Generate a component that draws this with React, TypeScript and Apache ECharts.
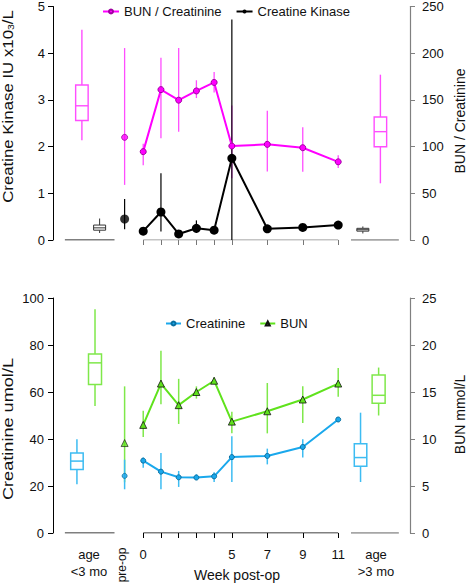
import React, { useEffect, useRef } from 'react';
import * as echarts from 'echarts';

// ---------- data ----------
const weeks = [0, 1, 2, 3, 4, 5, 7, 9, 11];
const weekTickValues = [0, 1, 2, 3, 4, 5, 7, 9, 11];
const weekLabelValues = [0, 5, 7, 9, 11];

// Creatine kinase (IU x10^3/L)
const ckMean = [0.19, 0.6, 0.13, 0.25, 0.21, 1.75, 0.24, 0.27, 0.32];
const ckLow = [null, 0.18, null, 0.15, null, 0, null, null, null];
const ckHigh = [null, 1.43, null, 0.42, null, 4.72, null, null, null];
const ckPreOp = [0.45, 0.23, 0.88]; // mean, low, high
const ckBoxYoung = [0.15, 0.21, 0.26, 0.32, 0.46]; // min, q1, median, q3, max
const ckBoxOld = [0.14, 0.19, 0.22, 0.25, 0.29];

// BUN / Creatinine ratio
const bunCrMean = [94.6, 161, 149.7, 159.6, 168.7, 100.6, 102.4, 98.8, 83.7];
const bunCrLow = [80, 109, 116, 152, 158, 66, 73.4, 73, 77];
const bunCrHigh = [103, 195, 205.5, 171, 180, 144, 138.5, 120.8, 90.8];
const bunCrPreOp = [109.9, 59, 205.5];
const bunCrBoxYoung = [106.7, 127.9, 143.7, 166, 225];
const bunCrBoxOld = [60.7, 99.9, 116, 131.7, 177];

// Creatinine (umol/L)
const creatMean = [30.8, 26.1, 23.7, 23.6, 24.1, 32.3, 32.8, 36.6, 48.3];
const creatLow = [27.8, 18.6, 19.6, 22.8, 21.7, 21.7, 29.2, 32.1, 47.6];
const creatHigh = [32.1, 34, 26.4, 25.0, 25.8, 41.2, 35.9, 39.9, 49];
const creatPreOp = [24.3, 18.6, 31.2];
const creatBoxYoung = [20.7, 27.0, 30.6, 34.0, 39.9];
const creatBoxOld = [21.7, 28.4, 32.1, 38.0, 51.2];

// BUN (mmol/L)
const bunMean = [11.5, 15.9, 13.6, 15.0, 16.2, 11.85, 12.95, 14.2, 15.9];
const bunLow = [10.2, 13.7, 11.6, 14.3, 15.9, 10.6, 10.6, 11.7, 14.5];
const bunHigh = [13.0, 19.4, 16.4, 15.6, 16.55, 12.9, 15.96, 15.6, 17.55];
const bunPreOp = [9.57, 5.4, 15.6];
const bunBoxYoung = [13.5, 15.8, 18.1, 19.05, 23.8];
const bunBoxOld = [12.5, 13.8, 14.65, 16.8, 17.6];

// ---------- layout ----------
const FONT = "'Liberation Sans', Arial, Helvetica, sans-serif";
const X_MIN = -5.09;
const X_MAX = 15.05;
const PREOP_X = -1.05;
const BASE_YOUNG = [-4.42, -1.62];
const BASE_OLD = [11.72, 14.42];
const TOP_X = { bunCrYoung: -3.46, ckYoung: -2.46, ckOld: 12.39, bunCrOld: 13.38 };
const BOT_X = { creatYoung: -3.74, bunYoung: -2.72, creatOld: 12.26, bunOld: 13.28 };

const MAGENTA = '#ff00ff';
const MAGENTA_LIGHT = '#ff4dff';
const BLUE = '#1aa8ec';
const BLUE_LIGHT = '#3dbcf2';
const GREEN = '#5fe21c';
const GREEN_LIGHT = '#7fe84a';

function errRender(color: string, lw: number) {
  return (params: any, api: any) => {
    const x = api.value(0);
    const p1 = api.coord([x, api.value(1)]);
    const p2 = api.coord([x, api.value(2)]);
    return {
      type: 'line',
      shape: { x1: p1[0], y1: p1[1], x2: p2[0], y2: p2[1] },
      style: { stroke: color, lineWidth: lw },
    };
  };
}

function boxRender(color: string, width: number, lw: number) {
  return (params: any, api: any) => {
    const x = api.value(0);
    const pts = [1, 2, 3, 4, 5].map((i) => api.coord([x, api.value(i)]));
    const [pMin, pQ1, pMed, pQ3, pMax] = pts;
    const cx = pMin[0];
    const h = width / 2;
    const st = { stroke: color, lineWidth: lw };
    return {
      type: 'group',
      children: [
        { type: 'line', shape: { x1: cx, y1: pMax[1], x2: cx, y2: pQ3[1] }, style: st },
        { type: 'line', shape: { x1: cx, y1: pQ1[1], x2: cx, y2: pMin[1] }, style: st },
        {
          type: 'rect',
          shape: { x: cx - h, y: pQ3[1], width, height: pQ1[1] - pQ3[1] },
          style: { fill: '#ffffff', stroke: color, lineWidth: lw },
        },
        { type: 'line', shape: { x1: cx - h, y1: pMed[1], x2: cx + h, y2: pMed[1] }, style: st },
      ],
    };
  };
}

function errData(mean: number[], low: (number | null)[], high: (number | null)[], pre: number[]) {
  const out: number[][] = [[PREOP_X, pre[1], pre[2]]];
  weeks.forEach((w, i) => {
    const lo = low[i];
    const hi = high[i];
    if (lo !== null && hi !== null) out.push([w, lo, hi]);
  });
  return out;
}

function segment(grid: number, yIdx: number, range: number[], color: string, lw: number) {
  return {
    type: 'line',
    xAxisIndex: grid,
    yAxisIndex: yIdx,
    data: [[range[0], 0], [range[1], 0]],
    symbol: 'none',
    silent: true,
    lineStyle: { color, width: lw },
    z: 1,
  };
}

function buildOption() {
  const yAxisCommon = {
    type: 'value',
    splitLine: { show: false },
    axisLabel: { fontSize: 13, color: '#111', fontFamily: FONT },
  };
  return {
    animation: false,
    backgroundColor: '#ffffff',
    textStyle: { fontFamily: FONT },
    grid: [
      { left: 53, right: 59, top: 4, height: 236 },
      { left: 53, right: 59, top: 298, height: 235 },
    ],
    legend: [
      {
        data: ['BUN / Creatinine', 'Creatine Kinase'],
        left: 97,
        top: 0,
        itemWidth: 16,
        itemHeight: 5,
        itemGap: 14,
        textStyle: { fontSize: 13, color: '#111', fontFamily: FONT },
      },
      {
        data: ['Creatinine', 'BUN'],
        left: 160,
        top: 312,
        itemWidth: 15,
        itemHeight: 5,
        itemGap: 14,
        textStyle: { fontSize: 13, color: '#111', fontFamily: FONT },
      },
    ],
    xAxis: [
      {
        gridIndex: 0,
        type: 'value',
        min: X_MIN,
        max: X_MAX,
        axisLine: { show: false, onZero: false },
        axisTick: { show: true, customValues: weekTickValues, length: 5, lineStyle: { color: '#777', width: 1 } },
        axisLabel: { show: false },
        splitLine: { show: false },
      },
      {
        gridIndex: 1,
        type: 'value',
        min: X_MIN,
        max: X_MAX,
        axisLine: { show: false, onZero: false },
        axisTick: { show: true, customValues: weekTickValues, length: 5, lineStyle: { color: '#000', width: 1 } },
        axisLabel: {
          show: true,
          customValues: weekLabelValues,
          formatter: (v: number) => String(v),
          margin: 15,
          fontSize: 13,
          color: '#111',
          fontFamily: FONT,
        },
        splitLine: { show: false },
      },
    ],
    yAxis: [
      {
        ...yAxisCommon,
        gridIndex: 0,
        position: 'left',
        min: 0,
        max: 5,
        interval: 1,
        axisLine: { show: true, onZero: false, lineStyle: { color: '#000', width: 1 } },
        axisTick: { show: true, length: 5, lineStyle: { color: '#000' } },
        axisLabel: { ...yAxisCommon.axisLabel, margin: 8 },
      },
      {
        ...yAxisCommon,
        gridIndex: 0,
        position: 'right',
        min: 0,
        max: 250,
        interval: 50,
        axisLine: { show: true, onZero: false, lineStyle: { color: '#808080', width: 1.2 } },
        axisTick: { show: true, length: 5, lineStyle: { color: '#808080' } },
        axisLabel: { ...yAxisCommon.axisLabel, margin: 12 },
      },
      {
        ...yAxisCommon,
        gridIndex: 1,
        position: 'left',
        min: 0,
        max: 100,
        interval: 20,
        axisLine: { show: true, onZero: false, lineStyle: { color: '#000', width: 1 } },
        axisTick: { show: true, length: 5, lineStyle: { color: '#000' } },
        axisLabel: { ...yAxisCommon.axisLabel, margin: 9 },
      },
      {
        ...yAxisCommon,
        gridIndex: 1,
        position: 'right',
        min: 0,
        max: 25,
        interval: 5,
        axisLine: { show: true, onZero: false, lineStyle: { color: '#808080', width: 1.2 } },
        axisTick: { show: true, length: 5, lineStyle: { color: '#808080' } },
        axisLabel: { ...yAxisCommon.axisLabel, margin: 12 },
      },
    ],
    series: [
      // ----- top panel -----
      segment(0, 0, BASE_YOUNG, '#000', 1.2),
      segment(0, 0, BASE_OLD, '#888', 1.5),
      segment(0, 0, [0, 11], '#888', 1),
      {
        type: 'custom',
        name: 'bunCrErr',
        xAxisIndex: 0,
        yAxisIndex: 1,
        renderItem: errRender(MAGENTA_LIGHT, 1.3),
        encode: { x: 0, y: [1, 2] },
        data: errData(bunCrMean, bunCrLow, bunCrHigh, bunCrPreOp),
        z: 2,
        silent: true,
      },
      {
        type: 'custom',
        name: 'ckErr',
        xAxisIndex: 0,
        yAxisIndex: 0,
        renderItem: errRender('#000', 1.2),
        encode: { x: 0, y: [1, 2] },
        data: errData(ckMean, ckLow, ckHigh, ckPreOp),
        z: 2,
        silent: true,
      },
      {
        type: 'custom',
        name: 'bunCrBox',
        xAxisIndex: 0,
        yAxisIndex: 1,
        renderItem: boxRender(MAGENTA_LIGHT, 12.5, 1.4),
        encode: { x: 0, y: [1, 2, 3, 4, 5] },
        data: [
          [TOP_X.bunCrYoung, ...bunCrBoxYoung],
          [TOP_X.bunCrOld, ...bunCrBoxOld],
        ],
        z: 2,
        silent: true,
      },
      {
        type: 'custom',
        name: 'ckBox',
        xAxisIndex: 0,
        yAxisIndex: 0,
        renderItem: boxRender('#333', 12, 1),
        encode: { x: 0, y: [1, 2, 3, 4, 5] },
        data: [
          [TOP_X.ckYoung, ...ckBoxYoung],
          [TOP_X.ckOld, ...ckBoxOld],
        ],
        z: 2,
        silent: true,
      },
      {
        type: 'line',
        name: 'BUN / Creatinine',
        xAxisIndex: 0,
        yAxisIndex: 1,
        data: weeks.map((w, i) => [w, bunCrMean[i]]),
        symbol: 'circle',
        symbolSize: 6,
        lineStyle: { color: MAGENTA, width: 2 },
        itemStyle: { color: MAGENTA, borderColor: '#a000a0', borderWidth: 1 },
        z: 3,
      },
      {
        type: 'scatter',
        name: 'bunCrPre',
        xAxisIndex: 0,
        yAxisIndex: 1,
        data: [[PREOP_X, bunCrPreOp[0]]],
        symbol: 'circle',
        symbolSize: 6,
        itemStyle: { color: MAGENTA, borderColor: '#a000a0', borderWidth: 1 },
        z: 3,
      },
      {
        type: 'line',
        name: 'Creatine Kinase',
        xAxisIndex: 0,
        yAxisIndex: 0,
        data: weeks.map((w, i) => [w, ckMean[i]]),
        symbol: 'circle',
        symbolSize: 9,
        lineStyle: { color: '#000', width: 2 },
        itemStyle: { color: '#000' },
        z: 4,
      },
      {
        type: 'scatter',
        name: 'ckPre',
        xAxisIndex: 0,
        yAxisIndex: 0,
        data: [[PREOP_X, ckPreOp[0]]],
        symbol: 'circle',
        symbolSize: 9,
        itemStyle: { color: '#000' },
        z: 4,
      },
      // ----- bottom panel -----
      segment(1, 2, BASE_YOUNG, '#000', 1.2),
      segment(1, 2, BASE_OLD, '#888', 1.5),
      segment(1, 2, [0, 11], '#000', 1),
      {
        type: 'custom',
        name: 'bunErr',
        xAxisIndex: 1,
        yAxisIndex: 3,
        renderItem: errRender(GREEN_LIGHT, 1.5),
        encode: { x: 0, y: [1, 2] },
        data: errData(bunMean, bunLow, bunHigh, bunPreOp),
        z: 2,
        silent: true,
      },
      {
        type: 'custom',
        name: 'creatErr',
        xAxisIndex: 1,
        yAxisIndex: 2,
        renderItem: errRender(BLUE_LIGHT, 1.5),
        encode: { x: 0, y: [1, 2] },
        data: errData(creatMean, creatLow, creatHigh, creatPreOp),
        z: 2,
        silent: true,
      },
      {
        type: 'custom',
        name: 'creatBox',
        xAxisIndex: 1,
        yAxisIndex: 2,
        renderItem: boxRender(BLUE_LIGHT, 12.5, 1.5),
        encode: { x: 0, y: [1, 2, 3, 4, 5] },
        data: [
          [BOT_X.creatYoung, ...creatBoxYoung],
          [BOT_X.creatOld, ...creatBoxOld],
        ],
        z: 2,
        silent: true,
      },
      {
        type: 'custom',
        name: 'bunBox',
        xAxisIndex: 1,
        yAxisIndex: 3,
        renderItem: boxRender(GREEN_LIGHT, 13, 1.5),
        encode: { x: 0, y: [1, 2, 3, 4, 5] },
        data: [
          [BOT_X.bunYoung, ...bunBoxYoung],
          [BOT_X.bunOld, ...bunBoxOld],
        ],
        z: 2,
        silent: true,
      },
      {
        type: 'line',
        name: 'Creatinine',
        xAxisIndex: 1,
        yAxisIndex: 2,
        data: weeks.map((w, i) => [w, creatMean[i]]),
        symbol: 'circle',
        symbolSize: 5,
        lineStyle: { color: BLUE, width: 2 },
        itemStyle: { color: BLUE, borderColor: '#0a6fa0', borderWidth: 1 },
        z: 3,
      },
      {
        type: 'scatter',
        name: 'creatPre',
        xAxisIndex: 1,
        yAxisIndex: 2,
        data: [[PREOP_X, creatPreOp[0]]],
        symbol: 'circle',
        symbolSize: 5,
        itemStyle: { color: BLUE, borderColor: '#0a6fa0', borderWidth: 1 },
        z: 3,
      },
      {
        type: 'line',
        name: 'BUN',
        xAxisIndex: 1,
        yAxisIndex: 3,
        data: weeks.map((w, i) => [w, bunMean[i]]),
        symbol: 'triangle',
        symbolSize: 7,
        lineStyle: { color: GREEN, width: 2 },
        itemStyle: { color: GREEN, borderColor: '#111', borderWidth: 0.8 },
        z: 3,
      },
      {
        type: 'scatter',
        name: 'bunPre',
        xAxisIndex: 1,
        yAxisIndex: 3,
        data: [[PREOP_X, bunPreOp[0]]],
        symbol: 'triangle',
        symbolSize: 7,
        itemStyle: { color: GREEN, borderColor: '#111', borderWidth: 0.8 },
        z: 3,
      },
    ],
    graphic: [
      {
        type: 'text',
        x: 7.5,
        y: 106.5,
        rotation: Math.PI / 2,
        scaleX: 1.16,
        style: {
          text: '{a|Creatine Kinase IU x10}{s|3}{a|/L}',
          rich: {
            a: { fontSize: 14.5, fontFamily: FONT, fill: '#111' },
            s: { fontSize: 9, fontFamily: FONT, fill: '#111', verticalAlign: 'bottom' },
          },
          align: 'center',
          verticalAlign: 'middle',
        },
      },
      {
        type: 'text',
        x: 7.5,
        y: 429,
        rotation: Math.PI / 2,
        scaleX: 1.25,
        style: {
          text: 'Creatinine umol/L',
          fontSize: 14.5,
          fontFamily: FONT,
          fill: '#111',
          align: 'center',
          verticalAlign: 'middle',
        },
      },
      {
        type: 'text',
        x: 460,
        y: 121,
        rotation: Math.PI / 2,
        style: {
          text: 'BUN / Creatinine',
          fontSize: 14,
          fontFamily: FONT,
          fill: '#111',
          align: 'center',
          verticalAlign: 'middle',
        },
      },
      {
        type: 'text',
        x: 460,
        y: 414.5,
        rotation: Math.PI / 2,
        style: {
          text: 'BUN mmol/L',
          fontSize: 14,
          fontFamily: FONT,
          fill: '#111',
          align: 'center',
          verticalAlign: 'middle',
        },
      },
      {
        type: 'text',
        x: 89,
        y: 546,
        style: {
          text: 'age\n<3 mo',
          fontSize: 13,
          lineHeight: 17,
          fontFamily: FONT,
          fill: '#111',
          align: 'center',
          verticalAlign: 'top',
        },
      },
      {
        type: 'text',
        x: 376,
        y: 546,
        style: {
          text: 'age\n>3 mo',
          fontSize: 13,
          lineHeight: 17,
          fontFamily: FONT,
          fill: '#111',
          align: 'center',
          verticalAlign: 'top',
        },
      },
      {
        type: 'text',
        x: 122,
        y: 565,
        rotation: Math.PI / 2,
        style: {
          text: 'pre-op',
          fontSize: 12,
          fontFamily: FONT,
          fill: '#111',
          align: 'center',
          verticalAlign: 'middle',
        },
      },
      {
        type: 'text',
        x: 237,
        y: 575,
        style: {
          text: 'Week post-op',
          fontSize: 14,
          fontFamily: FONT,
          fill: '#111',
          align: 'center',
          verticalAlign: 'middle',
        },
      },
    ],
  };
}

export default function App() {
  const ref = useRef<HTMLDivElement>(null);
  useEffect(() => {
    if (!ref.current) return;
    const chart = echarts.init(ref.current, undefined, { renderer: 'svg' });
    chart.setOption(buildOption() as any);
    return () => chart.dispose();
  }, []);
  return (
    <div
      ref={ref}
      style={{ position: 'fixed', left: 0, top: 0, width: 469, height: 584, background: '#fff' }}
    />
  );
}
